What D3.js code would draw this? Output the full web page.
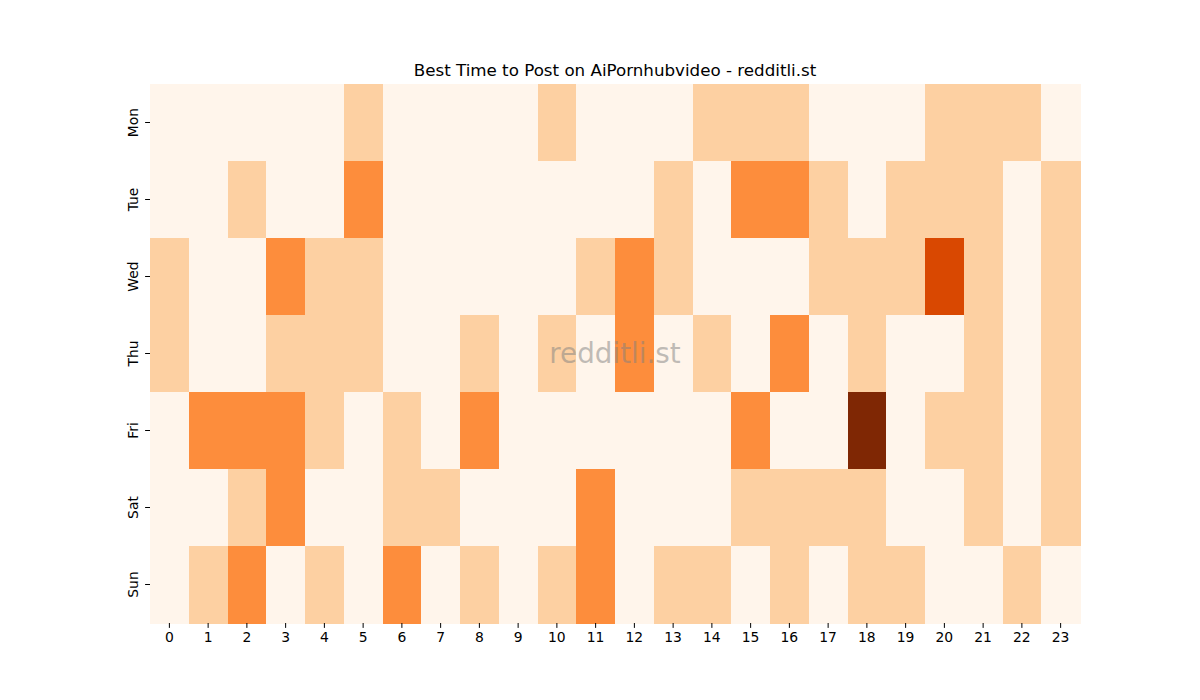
<!DOCTYPE html>
<html>
<head>
<meta charset="utf-8">
<script src="https://cdn.jsdelivr.net/npm/d3@7"></script>
<style>
body{margin:0;background:#fff;}
svg{display:block;font-family:"DejaVu Sans",sans-serif;}
</style>
</head>
<body>
<svg id="chart" width="1200" height="700"></svg>
<script>
const days = ["Mon","Tue","Wed","Thu","Fri","Sat","Sun"];
const hours = ["0","1","2","3","4","5","6","7","8","9","10","11","12","13","14","15","16","17","18","19","20","21","22","23"];
const mon = [0,0,0,0,0,1,0,0,0,0,1,0,0,0,1,1,1,0,0,0,1,1,1,0];
const tue = [0,0,1,0,0,2,0,0,0,0,0,0,0,1,0,2,2,1,0,1,1,1,0,1];
const wed = [1,0,0,2,1,1,0,0,0,0,0,1,2,1,0,0,0,1,1,1,3,1,0,1];
const thu = [1,0,0,1,1,1,0,0,1,0,1,0,2,0,1,0,2,0,1,0,0,1,0,1];
const fri = [0,2,2,2,1,0,1,0,2,0,0,0,0,0,0,2,0,0,4,0,1,1,0,1];
const sat = [0,0,1,2,0,0,1,1,0,0,0,2,0,0,0,1,1,1,1,0,0,1,0,1];
const sun = [0,1,2,0,1,0,2,0,1,0,1,2,0,1,1,0,1,0,1,1,0,0,1,0];
const rows = [mon,tue,wed,thu,fri,sat,sun];
const title = "Best Time to Post on AiPornhubvideo - redditli.st";
const watermark = "redditli.st";

const svg = d3.select("#chart");
const L = 150, R = 1080, T = 84, B = 623;
const x = d3.scaleBand().domain(hours).range([L, R]).padding(0);
const y = d3.scaleBand().domain(days).range([T, B]).padding(0);
const color = d3.scaleSequential(d3.interpolateOranges).domain([0, 4]);
const palette = ["#fff5eb","#fdd0a2","#fd8d3c","#d94801","#7f2704"];

const cells = [];
rows.forEach((r, i) => r.forEach((v, j) => cells.push({day: days[i], hour: hours[j], v})));

svg.append("g").selectAll("rect").data(cells).join("rect")
  .attr("x", d => x(d.hour))
  .attr("y", d => y(d.day))
  .attr("width", x.bandwidth() + 0.5)
  .attr("height", y.bandwidth() + 0.5)
  .attr("fill", d => palette[d.v] || color(d.v))
  .attr("shape-rendering", "crispEdges");

const xa = svg.append("g").attr("transform", `translate(0,${B})`)
  .call(d3.axisBottom(x).tickSize(4.9).tickPadding(4));
xa.select(".domain").remove();
xa.selectAll("text").attr("font-size", "13.9px").attr("font-family", "DejaVu Sans").attr("fill", "#000");
xa.selectAll("line").attr("stroke", "#000").attr("stroke-width", 1);

const ya = svg.append("g").attr("transform", `translate(${L},0)`)
  .call(d3.axisLeft(y).tickSize(4.9).tickPadding(4));
ya.select(".domain").remove();
ya.selectAll("line").attr("stroke", "#000").attr("stroke-width", 1);
ya.selectAll("text")
  .attr("font-size", "13.9px").attr("font-family", "DejaVu Sans").attr("fill", "#000")
  .attr("transform", "rotate(-90)")
  .attr("x", 0).attr("dy", null).attr("y", -12)
  .attr("text-anchor", "middle");
ya.selectAll(".tick text").each(function(){ d3.select(this).attr("dy", "0"); });

svg.append("text")
  .attr("x", (L + R) / 2).attr("y", 76)
  .attr("text-anchor", "middle")
  .attr("font-size", "16.7px").attr("fill", "#000")
  .text(title);

svg.append("text")
  .attr("x", (L + R) / 2).attr("y", 363)
  .attr("text-anchor", "middle")
  .attr("font-size", "27.8px").attr("fill", "#808080").attr("fill-opacity", 0.5)
  .text(watermark);
</script>
</body>
</html>
